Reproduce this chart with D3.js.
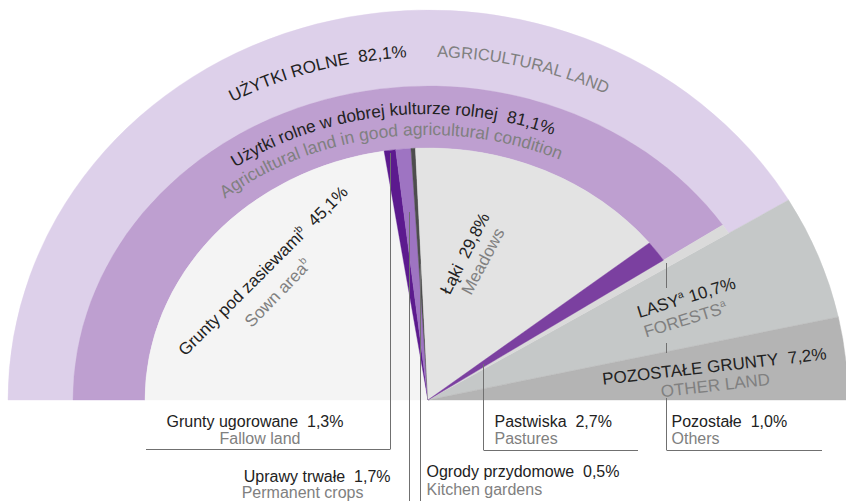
<!DOCTYPE html>
<html>
<head>
<meta charset="utf-8">
<script src="https://cdn.jsdelivr.net/npm/d3@7"></script>
<style>
  body { margin: 0; background: #fff; }
  svg { display: block; font-family: "Liberation Sans", Arial, sans-serif; }
</style>
</head>
<body>
<svg width="846" height="501"></svg>
<script>
// land use structure, % of total area
const landCategories = ['UŻYTKI ROLNE', 'LASY', 'POZOSTAŁE GRUNTY'];
const landCategoriesEn = ['AGRICULTURAL LAND', 'FORESTS', 'OTHER LAND'];
const landValues = [82.1, 10.7, 7.2];

const agriCategories = ['Użytki rolne w dobrej kulturze rolnej', 'Pozostałe'];
const agriCategoriesEn = ['Agricultural land in good agricultural condition', 'Others'];
const agriValues = [81.1, 1.0];

const goodCategories = ['Grunty pod zasiewami', 'Grunty ugorowane', 'Uprawy trwałe', 'Ogrody przydomowe', 'Łąki', 'Pastwiska'];
const goodCategoriesEn = ['Sown area', 'Fallow land', 'Permanent crops', 'Kitchen gardens', 'Meadows', 'Pastures'];
const goodValues = [45.1, 1.3, 1.7, 0.5, 29.8, 2.7];

const landColors = ['#ddd0ea', '#c5c8c8', '#b4b4b4'];
const agriColors = ['#be9fd0', '#dadada'];
const goodColors = ['#f4f4f4', '#5c1a8e', '#9e74c2', '#4d4d4d', '#e3e3e3', '#7b40a0'];

const svg = d3.select('svg');
const cx = 428, cy = 400;
const squash = 0.88;
const rings = [null, { rx: 283, ry: 252 }, { rx: 355, ry: 314 }, { rx: 420, ry: 390 }];
const black = '#222', grey = '#808080', lineCol = '#707070';

const fmt = v => v.toFixed(1).replace('.', ',') + '%';
const angle = d3.scaleLinear().domain([0, 100]).range([Math.PI, 0]);

function point(t, ring, f = 1) {
  const phi = Math.atan2(squash * Math.sin(t), Math.cos(t));
  const c = Math.cos(phi), s = Math.sin(phi);
  const r = f / Math.sqrt((c / ring.rx) ** 2 + (s / ring.ry) ** 2);
  return [cx + r * c, cy - r * s];
}

function sector(d) {
  const t0 = angle(d.v0), t1 = angle(d.v1);
  const o = d.outer, i = d.inner;
  let p = `M${i ? point(t0, i) : [cx, cy]}L${point(t0, o)}A${o.rx},${o.ry} 0 0 1 ${point(t1, o)}`;
  if (i) p += `L${point(t1, i)}A${i.rx},${i.ry} 0 0 0 ${point(t0, i)}`;
  else p += `L${cx},${cy}`;
  return p + 'Z';
}

// build the segments
const segs = [];
segs.push({ v0: 0, v1: landValues[0], inner: rings[2], outer: rings[3], fill: landColors[0] });
let acc = landValues[0];
landValues.slice(1).forEach((v, k) => {
  segs.push({ v0: acc, v1: acc + v, inner: null, outer: rings[3], fill: landColors[k + 1] });
  acc += v;
});
segs.push({ v0: 0, v1: agriValues[0], inner: rings[1], outer: rings[2], fill: agriColors[0] });
segs.push({ v0: agriValues[0], v1: agriValues[0] + agriValues[1], inner: null, outer: rings[2], fill: agriColors[1], name: 'others' });
acc = 0;
goodValues.forEach((v, k) => {
  segs.push({ v0: acc, v1: acc + v, inner: null, outer: rings[1], fill: goodColors[k], name: goodCategoriesEn[k] });
  acc += v;
});

svg.append('g').selectAll('path')
  .data(segs)
  .join('path')
    .attr('d', sector)
    .attr('fill', d => d.fill)
    .attr('stroke', d => d.fill)
    .attr('stroke-width', 0.4);

// curved labels
const defs = svg.append('defs');
function labelArc(id, rx, ry, startDeg) {
  const t0 = startDeg * Math.PI / 180;
  defs.append('path').attr('id', id)
    .attr('d', `M${cx + rx * Math.cos(t0)},${cy - ry * Math.sin(t0)}A${rx},${ry} 0 0 1 ${cx + rx},${cy}`);
}
labelArc('arcOuter1', 395, 343, 119.7);
labelArc('arcOuter2', 395, 343, 88.7);
labelArc('arcMid1', 331, 286, 125.6);
labelArc('arcMid2', 312, 265, 130.6);

function curved(id, txt, size, color) {
  svg.append('text')
    .attr('font-size', size)
    .attr('fill', color)
    .append('textPath')
      .attr('href', '#' + id)
      .text(txt);
}
curved('arcOuter1', `${landCategories[0]}\u00a0\u00a0${fmt(landValues[0])}`, 17, black);
curved('arcOuter2', landCategoriesEn[0], 16.5, grey);
curved('arcMid1', `${agriCategories[0]}\u00a0\u00a0${fmt(agriValues[0])}`, 17.2, black);
curved('arcMid2', agriCategoriesEn[0], 17.4, grey);

// rotated labels
function rotText(x, y, deg, size, color, parts) {
  const t = svg.append('text')
    .attr('transform', `translate(${x},${y}) rotate(${deg})`)
    .attr('text-anchor', 'middle')
    .attr('font-size', size)
    .attr('fill', color);
  parts.forEach(p => {
    if (p.sup) {
      t.append('tspan').attr('font-size', size * 0.6).attr('dy', -size * 0.4).text(p.sup);
      t.append('tspan').attr('dy', size * 0.4).text(p.text || '\u200b');
    } else {
      t.append('tspan').text(p.text);
    }
  });
}
rotText(267, 275, -45, 17, black, [{ text: goodCategories[0] }, { sup: 'b', text: `\u00a0\u00a0${fmt(goodValues[0])}` }]);
rotText(282, 297, -46, 17, grey, [{ text: goodCategoriesEn[0] }, { sup: 'b' }]);
rotText(470, 256, -63, 17, black, [{ text: `${goodCategories[4]}\u00a0\u00a0${fmt(goodValues[4])}` }]);
rotText(488, 264, -62, 17, grey, [{ text: goodCategoriesEn[4] }]);
rotText(688, 303, -17, 17, black, [{ text: landCategories[1] }, { sup: 'a', text: `\u00a0${fmt(landValues[1])}` }]);
rotText(687, 325, -17, 17, grey, [{ text: landCategoriesEn[1] }, { sup: 'a' }]);
rotText(715, 372, -6.5, 17, black, [{ text: `${landCategories[2]}\u00a0\u00a0${fmt(landValues[2])}` }]);
rotText(716, 391, -6.5, 17, grey, [{ text: landCategoriesEn[2] }]);

// leader lines from the small slices to the labels below
const lines = svg.append('g').attr('stroke', lineCol).attr('stroke-width', 1).attr('fill', 'none');
function leader(seg, f, bottom, hEnd, gaps = []) {
  const t = angle((seg.v0 + seg.v1) / 2);
  const [x0, y0] = point(t, rings[1], f);
  const x = Math.round(x0) + 0.5;
  const stops = [Math.round(y0)];
  gaps.forEach(g => stops.push(g[0], g[1]));
  stops.push(bottom);
  for (let k = 0; k < stops.length; k += 2) {
    lines.append('line').attr('x1', x).attr('x2', x).attr('y1', stops[k]).attr('y2', stops[k + 1]);
  }
  if (hEnd != null) {
    lines.append('line').attr('x1', x).attr('x2', hEnd).attr('y1', bottom + 0.5).attr('y2', bottom + 0.5);
  }
  return x;
}
const bySeg = name => segs.find(s => s.name === name);
const xFallow = leader(bySeg('Fallow land'), 0.99, 449, 146);
const xPerm = leader(bySeg('Permanent crops'), 0.75, 501, null);
const xKitchen = leader(bySeg('Kitchen gardens'), 0.54, 501, null);
const xPast = leader(bySeg('Pastures'), 0.24, 450, 638);
const xOthers = leader(bySeg('others'), 1.0, 450, 822, [[288, 343], [353, 398]]);

function flat(x, y, anchor, size, color, txt) {
  svg.append('text')
    .attr('x', x).attr('y', y)
    .attr('text-anchor', anchor)
    .attr('font-size', size)
    .attr('fill', color)
    .text(txt);
}
const fs = 16;
flat(255, 427, 'middle', fs, black, `${goodCategories[1]}\u00a0\u00a0${fmt(goodValues[1])}`);
flat(260, 444, 'middle', fs, grey, goodCategoriesEn[1]);
flat(xPerm - 19, 482, 'end', fs, black, `${goodCategories[2]}\u00a0\u00a0${fmt(goodValues[2])}`);
flat(xPerm - 46, 498, 'end', fs, grey, goodCategoriesEn[2]);
flat(xKitchen + 6, 477, 'start', fs, black, `${goodCategories[3]}\u00a0\u00a0${fmt(goodValues[3])}`);
flat(xKitchen + 6, 495, 'start', fs, grey, goodCategoriesEn[3]);
flat(xPast + 11, 427, 'start', fs, black, `${goodCategories[5]}\u00a0\u00a0${fmt(goodValues[5])}`);
flat(xPast + 11, 444, 'start', fs, grey, goodCategoriesEn[5]);
flat(xOthers + 5, 427, 'start', fs, black, `${agriCategories[1]}\u00a0\u00a0${fmt(agriValues[1])}`);
flat(xOthers + 5, 444, 'start', fs, grey, agriCategoriesEn[1]);
</script>
</body>
</html>
